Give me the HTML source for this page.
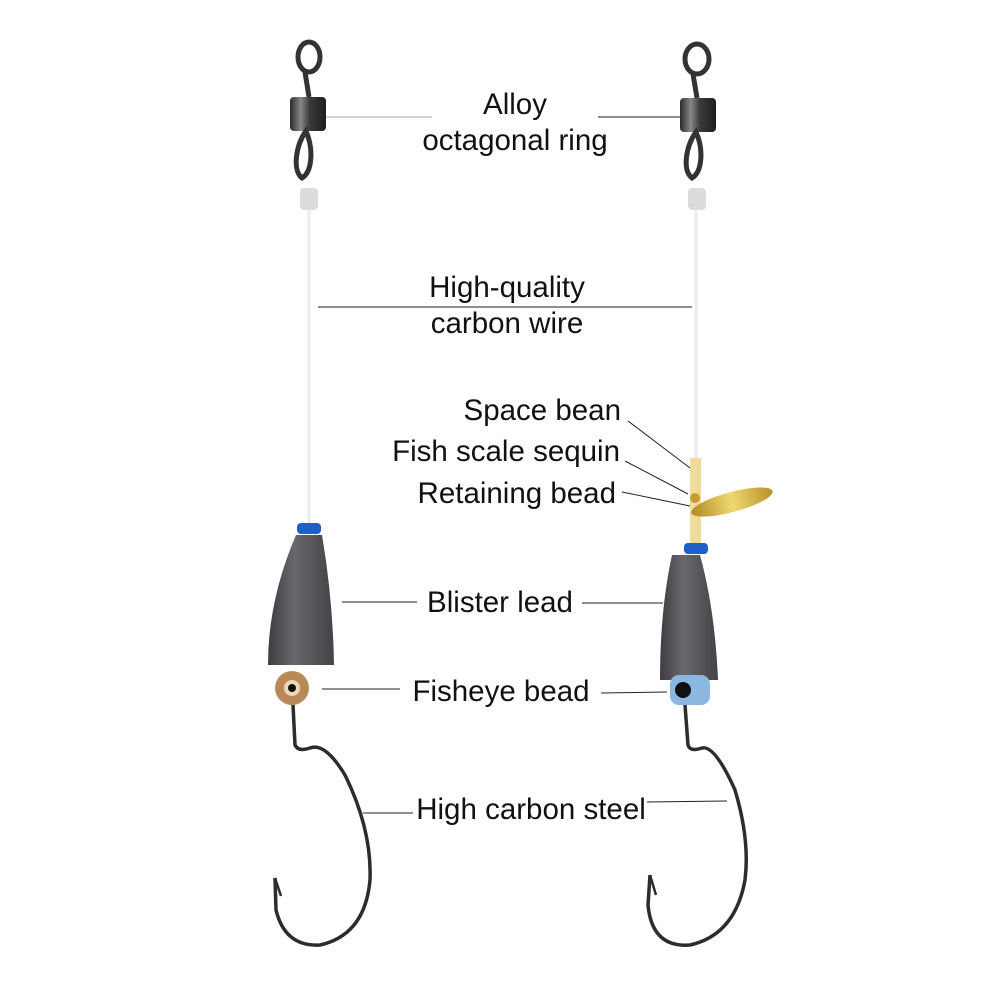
<!DOCTYPE html>
<html><head><style>
html,body{margin:0;padding:0;background:#fff;}
svg{display:block}
text{font-family:"Liberation Sans",Arial,sans-serif;font-size:29.5px;fill:#111}
</style></head><body>
<svg width="1000" height="1000" viewBox="0 0 1000 1000" xmlns="http://www.w3.org/2000/svg">
<defs>
<linearGradient id="metal" x1="0" x2="1">
<stop offset="0" stop-color="#2a2a2a"/><stop offset="0.3" stop-color="#888"/><stop offset="0.55" stop-color="#3a3a3a"/><stop offset="1" stop-color="#1e1e1e"/>
</linearGradient>
<linearGradient id="lead" x1="0" x2="1">
<stop offset="0" stop-color="#3e3c40"/><stop offset="0.4" stop-color="#6a686c"/><stop offset="1" stop-color="#444246"/>
</linearGradient>
<linearGradient id="gold" x1="0" x2="1">
<stop offset="0" stop-color="#b08a20"/><stop offset="0.5" stop-color="#f0d870"/><stop offset="1" stop-color="#b89028"/>
</linearGradient>
</defs>

<!-- LEFT RIG -->
<g>
<line x1="309" y1="200" x2="309" y2="528" stroke="#ececf0" stroke-width="3"/>
<ellipse cx="309" cy="57" rx="11" ry="15" fill="none" stroke="#333" stroke-width="5"/>
<line x1="305" y1="72" x2="309" y2="97" stroke="#333" stroke-width="5"/>
<rect x="290" y="97" width="36" height="34" rx="4" fill="url(#metal)"/>
<path d="M306 131 C296 145 292 170 302 178 C312 172 314 150 306 131Z" fill="none" stroke="#333" stroke-width="5"/>
<rect x="300" y="188" width="18" height="22" rx="4" fill="#dcdcdc"/>
<rect x="297" y="523" width="24" height="11" rx="4" fill="#1e5fc8"/>
<path d="M296 535 L322 535 Q333 600 334 665 L268 665 Q268 600 296 535Z" fill="url(#lead)"/>
<circle cx="292" cy="688" r="17" fill="#b88a58"/>
<circle cx="292" cy="688" r="8" fill="#eed8b6"/>
<circle cx="292" cy="688" r="4" fill="#111"/>
<path d="M293 705 L295 745 Q298 752 310 748 Q325 742 345 775 Q372 830 370 880 Q365 935 320 945 Q285 947 276 910 L275 878" fill="none" stroke="#2c2c2c" stroke-width="3.5"/>
<path d="M275 878 L281 896" stroke="#2c2c2c" stroke-width="2.5"/>
</g>

<!-- RIGHT RIG -->
<g>
<line x1="696" y1="200" x2="696" y2="460" stroke="#ececf0" stroke-width="3"/>
<ellipse cx="697" cy="59" rx="12" ry="15" fill="none" stroke="#333" stroke-width="5"/>
<line x1="693" y1="74" x2="697" y2="98" stroke="#333" stroke-width="5"/>
<rect x="680" y="98" width="36" height="34" rx="4" fill="url(#metal)"/>
<path d="M696 132 C686 146 682 170 692 178 C702 172 704 150 696 132Z" fill="none" stroke="#333" stroke-width="5"/>
<rect x="688" y="188" width="18" height="22" rx="4" fill="#dcdcdc"/>
<rect x="690" y="458" width="11" height="88" fill="#f0dc9a"/>
<ellipse cx="732" cy="502" rx="42" ry="10" transform="rotate(-15 732 502)" fill="url(#gold)"/>
<circle cx="695" cy="498" r="5" fill="#c89a30"/>
<rect x="684" y="543" width="24" height="11" rx="4" fill="#1e5fc8"/>
<path d="M672 555 L700 555 Q715 610 718 680 L660 680 Q660 610 672 555Z" fill="url(#lead)"/>
<rect x="670" y="675" width="40" height="30" rx="9" fill="#8ab8e0"/>
<circle cx="683" cy="690" r="8" fill="#111"/>
<path d="M685 705 L688 745 Q690 752 702 748 Q715 745 735 790 Q750 840 745 880 Q735 935 690 945 Q652 948 648 905 L650 875" fill="none" stroke="#2c2c2c" stroke-width="3.5"/>
<path d="M650 875 L656 895" stroke="#2c2c2c" stroke-width="2.5"/>
</g>

<!-- LEADER LINES -->
<g stroke="#222" stroke-width="1" fill="none">
<line x1="326" y1="117" x2="432" y2="117" stroke="#aaa"/>
<line x1="598" y1="117" x2="680" y2="117"/>
<line x1="318" y1="307" x2="692" y2="307"/>
<line x1="628" y1="421" x2="690" y2="468"/>
<line x1="625" y1="461" x2="688" y2="494"/>
<line x1="622" y1="492" x2="690" y2="506"/>
<line x1="342" y1="602" x2="417" y2="602"/>
<line x1="582" y1="603" x2="663" y2="603"/>
<line x1="322" y1="689" x2="400" y2="689"/>
<line x1="601" y1="693" x2="667" y2="692"/>
<line x1="363" y1="813" x2="413" y2="813"/>
<line x1="647" y1="802" x2="727" y2="801"/>
</g>

<!-- LABELS -->
<text x="515" y="114" text-anchor="middle">Alloy</text>
<text x="515" y="150" text-anchor="middle">octagonal ring</text>
<text x="507" y="297" text-anchor="middle">High-quality</text>
<text x="507" y="333" text-anchor="middle">carbon wire</text>
<text x="621" y="420" text-anchor="end">Space bean</text>
<text x="620" y="461" text-anchor="end">Fish scale sequin</text>
<text x="616" y="503" text-anchor="end">Retaining bead</text>
<text x="500" y="612" text-anchor="middle">Blister lead</text>
<text x="501" y="701" text-anchor="middle">Fisheye bead</text>
<text x="531" y="819" text-anchor="middle">High carbon steel</text>
</svg>
</body></html>
